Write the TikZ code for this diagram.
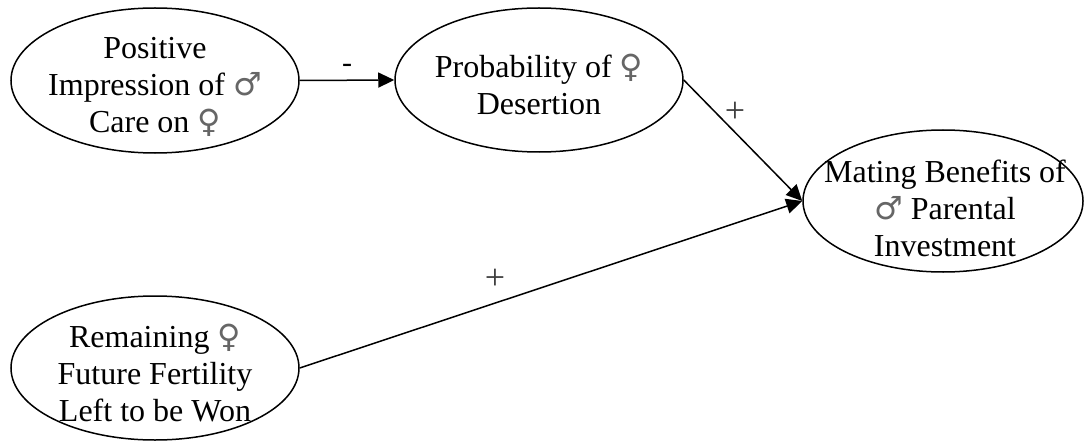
\documentclass[tikz,border=0pt]{standalone}
\usepackage{fontspec}
\setmainfont{Liberation Serif}
\newfontfamily\symfont{DejaVu Sans}
\newcommand{\male}{{\symfont\color{black!60}♂}}
\newcommand{\female}{{\symfont\color{black!60}♀}}
\usetikzlibrary{arrows.meta,shapes.geometric}
\tikzset{
  ell/.style={draw, ellipse, line width=1.5pt, inner sep=0pt,
    minimum width=288pt, minimum height=145pt},
  txt/.style={inner sep=0pt, align=center,
    font=\fontsize{32}{37}\selectfont},
  conn/.style={-{Triangle[length=16pt,width=15pt]}, line width=1.5pt},
  lab/.style={inner sep=0pt, font=\fontsize{30}{32}\selectfont},
  plab/.style={inner sep=0pt, text=black!75, font=\fontsize{36}{38}\selectfont}
}
\begin{document}
\begin{tikzpicture}[x=1pt,y=-1pt]
  \useasboundingbox (0,0) rectangle (1084,441);
  \node[ell] (pos) at (155,80.5) {};
  \node[txt] (post) at (155,87) {Positive\\Impression of \male\\Care on \female};
  \node[ell, minimum height=144pt] (prob) at (539,80) {};
  \node[txt] (probt) at (539,84) {Probability of \female\\Desertion};
  \node[ell, minimum width=280pt, minimum height=142pt] (mate) at (943,201) {};
  \node[txt] (matet) at (945,208) {Mating Benefits of\\\male{} Parental\\Investment};
  \node[ell, minimum height=144pt] (rem) at (155,368) {};
  \node[txt] (remt) at (155,373) {Remaining \female\\Future Fertility\\Left to be Won};
  \draw[conn] (pos.east) -- (prob.west);
  \draw[conn] (prob.east) -- (mate.west);
  \draw[conn] (rem.east) -- (mate.west);
  \node[lab] (l1) at (347,68) {-};
  \node[plab] (l2) at (735,112) {+};
  \node[plab] (l3) at (495,279) {+};
\end{tikzpicture}
\end{document}
